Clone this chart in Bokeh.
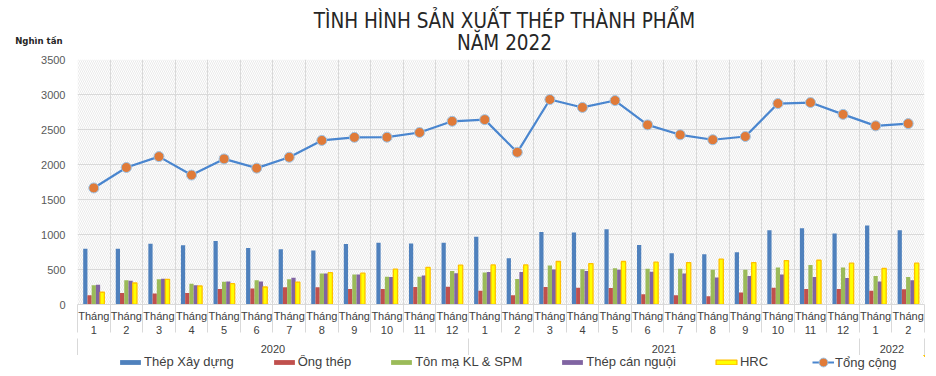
import numpy as np
from bokeh.plotting import figure
from bokeh.layouts import column
from bokeh.models import (Range1d, FixedTicker, LinearAxis, BoxAnnotation, Legend,
                          LegendItem, Label, Grid, ColumnDataSource)
from bokeh.transform import dodge
from bokeh.embed import file_html
from bokeh.resources import INLINE

# ---------------- data ----------------
years = ["2020"] * 12 + ["2021"] * 12 + ["2022"] * 2
months = list(range(1, 13)) + list(range(1, 13)) + [1, 2]

thep_xay_dung = [798, 798, 868, 845, 906, 807, 788, 772, 866, 883, 873, 883,
                 968, 661, 1034, 1029, 1076, 850, 732, 717, 746, 1062, 1090, 1015,
                 1128, 1062]
ong_thep = [132, 165, 156, 165, 222, 227, 245, 247, 220, 222, 250, 255,
            198, 132, 250, 241, 236, 146, 132, 118, 170, 241, 222, 222,
            198, 217]
ton_ma = [274, 345, 359, 297, 326, 345, 359, 444, 428, 396, 396, 477,
          458, 363, 557, 505, 519, 510, 510, 496, 496, 529, 566, 529,
          406, 392]
thep_can_nguoi = [283, 340, 368, 274, 330, 330, 382, 444, 428, 392, 415, 448,
                  463, 463, 500, 477, 496, 467, 444, 387, 406, 430, 392, 378,
                  330, 345]
hrc = [175, 307, 359, 264, 297, 250, 321, 455, 448, 505, 529, 562,
       566, 566, 614, 585, 614, 604, 599, 647, 599, 628, 632, 590,
       514, 590]
tong_cong = [1665, 1957, 2113, 1849, 2080, 1948, 2103, 2344, 2388, 2390, 2457, 2617,
             2641, 2174, 2928, 2815, 2914, 2566, 2424, 2354, 2400, 2871, 2885, 2716,
             2552, 2584]

y_ticks = [0, 500, 1000, 1500, 2000, 2500, 3000, 3500]
series_names = ["Thép Xây dựng", "Ống thép", "Tôn mạ KL & SPM", "Thép cán nguội", "HRC"]
line_name = "Tổng cộng"
title_lines = ["TÌNH HÌNH SẢN XUẤT THÉP THÀNH PHẨM", "NĂM 2022"]
unit_text = "Nghìn tấn"

# ---------------- style ----------------
FONT = "Liberation Sans"
NARROW = "DejaVu Sans Condensed, Liberation Sans"
GRID = "#d9d9d9"
W = 936
LEFT, RIGHT = 77, 12
fills = ["#4F81BD", "#C0504D", "#9BBB59", "#8064A2", "#FFFF00"]
HRC_LINE = "#FFC000"
LINE_C = "#4A86CF"
MK_FILL = "#E07B39"
MK_LINE = "#9DC3E6"

# ---------------- header (title + unit) ----------------
HDR_H = 54
hdr = figure(width=W, height=HDR_H, output_backend="svg", toolbar_location=None,
             x_axis_type=None, min_border=0, min_border_left=LEFT, min_border_right=RIGHT,
             x_range=Range1d(0, 1), y_range=Range1d(HDR_H, 0))
hdr.outline_line_color = None
hdr.grid.visible = False
hax = hdr.yaxis[0]
hax.ticker = FixedTicker(ticks=[40])
hax.major_label_overrides = {40: unit_text}
hax.axis_line_color = None
hax.major_tick_line_color = None
hax.major_tick_out = 0
hax.major_tick_in = 0
hax.minor_tick_line_color = None
hax.major_label_standoff = 15
hax.major_label_text_font = NARROW
hax.major_label_text_font_size = "9.5px"
hax.major_label_text_font_style = "bold"
hax.major_label_text_color = "#262626"
title_cx = 504 - LEFT
hdr.add_layout(Label(x=title_cx, y=HDR_H - 20, x_units="screen", y_units="screen",
                     text=title_lines[0], text_align="center", text_baseline="middle",
                     text_font=NARROW, text_font_size="20.5px", text_color="#262626"))
hdr.add_layout(Label(x=title_cx, y=HDR_H - 42, x_units="screen", y_units="screen",
                     text=title_lines[1], text_align="center", text_baseline="middle",
                     text_font=NARROW, text_font_size="20.5px", text_color="#262626"))

# ---------------- main chart ----------------
n = len(months)
xc = np.arange(n) + 0.5
src = ColumnDataSource(dict(x=xc, a=thep_xay_dung, b=ong_thep, c=ton_ma,
                            d=thep_can_nguoi, e=hrc, t=tong_cong))

MAIN_H = 301
p = figure(width=W, height=MAIN_H, output_backend="svg", toolbar_location=None,
           x_range=Range1d(0, n), y_range=Range1d(y_ticks[0], y_ticks[-1]),
           x_axis_type=None, min_border_left=LEFT, min_border_right=RIGHT,
           min_border_top=5, min_border_bottom=49)
p.outline_line_color = None
p.background_fill_color = "white"
p.border_fill_color = "white"

bg = BoxAnnotation(fill_color="white", fill_alpha=1, line_color=None,
                   hatch_pattern="\\", hatch_color="#dcdcdc", hatch_alpha=1,
                   hatch_scale=4, hatch_weight=0.6, level="image")
p.add_layout(bg)

yax = p.yaxis[0]
yax.ticker = FixedTicker(ticks=y_ticks)
yax.axis_line_color = None
yax.major_tick_line_color = None
yax.major_tick_out = 0
yax.major_tick_in = 0
yax.minor_tick_line_color = None
yax.major_label_text_font = FONT
yax.major_label_text_font_size = "11px"
yax.major_label_text_color = "#595959"
yax.major_label_standoff = 12
p.ygrid.grid_line_color = GRID
p.ygrid.ticker = FixedTicker(ticks=y_ticks)

xgrid = Grid(dimension=0, ticker=FixedTicker(ticks=list(range(n + 1))),
             grid_line_color=GRID)
p.add_layout(xgrid)

cols = ["a", "b", "c", "d", "e"]
bw = 0.13
offsets = [-2 * bw, -bw, 0, bw, 2 * bw]
for col, fc, off in zip(cols, fills, offsets):
    if col == "e":
        p.vbar(x=dodge("x", off), top=col, width=bw, source=src,
               fill_color=fc, line_color=HRC_LINE, line_width=1.3)
    else:
        p.vbar(x=dodge("x", off), top=col, width=bw, source=src,
               fill_color=fc, line_color=None)

p.line("x", "t", source=src, line_color=LINE_C, line_width=2.2)
p.scatter("x", "t", source=src, size=10, fill_color=MK_FILL,
          line_color=MK_LINE, line_width=1)

# month axis
month_labels = {float(x): f"Tháng\n{m}" for x, m in zip(xc, months)}
max_ = LinearAxis(ticker=FixedTicker(ticks=list(xc), minor_ticks=list(range(n + 1))),
                  major_label_overrides=month_labels)
max_.axis_line_color = GRID
max_.major_tick_line_color = None
max_.major_tick_out = 0
max_.major_tick_in = 0
max_.minor_tick_line_color = GRID
max_.minor_tick_in = 0
max_.minor_tick_out = 28
max_.major_label_text_font = FONT
max_.major_label_text_font_size = "11px"
max_.major_label_text_color = "#404040"
max_.major_label_standoff = -23
p.add_layout(max_, "below")

# year axis
uniq = []
for y in years:
    if y not in uniq:
        uniq.append(y)
bounds = [0]
centers = []
for y in uniq:
    s = years.index(y)
    e = s + years.count(y)
    centers.append((s + e) / 2)
    bounds.append(e)
yr_ax = LinearAxis(ticker=FixedTicker(ticks=centers, minor_ticks=bounds),
                   major_label_overrides={float(c): y for c, y in zip(centers, uniq)},
                   axis_line_color="white")
yr_ax.major_tick_line_color = None
yr_ax.major_tick_out = 0
yr_ax.major_tick_in = 0
yr_ax.minor_tick_line_color = GRID
yr_ax.minor_tick_in = 0
yr_ax.minor_tick_out = 32
yr_ax.major_label_text_font = FONT
yr_ax.major_label_text_font_size = "11px"
yr_ax.major_label_text_color = "#404040"
yr_ax.major_label_standoff = -26
p.add_layout(yr_ax, "below")

# ---------------- legend strip ----------------
LEG_H = 376 - HDR_H - MAIN_H
lg = figure(width=W, height=LEG_H, output_backend="svg", toolbar_location=None,
            x_axis_type=None, y_axis_type=None, min_border=0,
            min_border_left=LEFT, min_border_right=RIGHT,
            x_range=Range1d(-3, -2), y_range=Range1d(-3, -2))
lg.outline_line_color = None
lg.grid.visible = False
leg_r = []
for col, fc in zip(cols, fills):
    if col == "e":
        leg_r.append(lg.vbar(x="x", top=col, width=bw, source=src, fill_color=fc,
                             line_color=HRC_LINE, line_width=1.3))
    else:
        leg_r.append(lg.vbar(x="x", top=col, width=bw, source=src, fill_color=fc,
                             line_color=None))
l_line = lg.line(x="x", y="t", source=src, line_color=LINE_C, line_width=2)
l_mk = lg.scatter(x="x", y="t", source=src, size=9, fill_color=MK_FILL,
                  line_color=MK_LINE, line_width=1)

common = dict(orientation="horizontal", border_line_color=None, background_fill_alpha=0,
              label_text_font=FONT, label_text_font_size="13px",
              label_text_color="#404040", label_standoff=1, padding=0, margin=0,
              label_height=14)
items = [LegendItem(label=nm, renderers=[r]) for nm, r in zip(series_names, leg_r)]
leg = Legend(items=items, location=(124 - 3 - LEFT - 4, 7),
             glyph_width=26, glyph_height=6, spacing=37, **common)
lg.add_layout(leg)
leg2 = Legend(items=[LegendItem(label=line_name, renderers=[l_line, l_mk])],
              location=(812 - LEFT, 3), glyph_width=22, glyph_height=22, **common)
lg.add_layout(leg2)

layout = column(hdr, p, lg)
open("out.html", "w").write(file_html(layout, INLINE))
